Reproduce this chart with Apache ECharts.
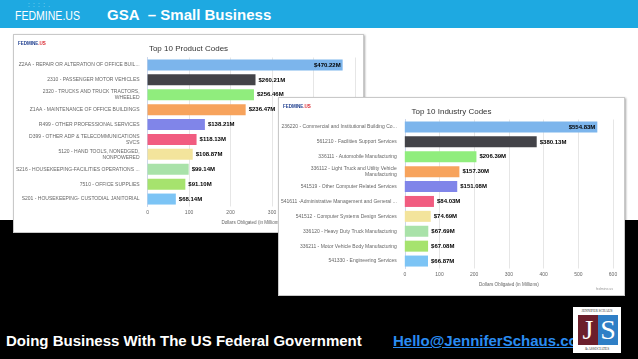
<!DOCTYPE html>
<html><head><meta charset="utf-8">
<script src="https://cdn.jsdelivr.net/npm/echarts@6/dist/echarts.min.js"></script>
<style>
html,body{margin:0;padding:0;width:638px;height:359px;overflow:hidden;background:#fff;font-family:"Liberation Sans",Arial,sans-serif;}
#slide{position:relative;width:638px;height:359px;background:#fff;overflow:hidden;}
#hdr{position:absolute;left:0;top:0;width:638px;height:28px;background:#1ea9e1;}
#hdrlogo{position:absolute;left:15px;top:9px;color:#fff;font-size:13px;line-height:14px;transform:scaleX(0.81);transform-origin:0 0;white-space:nowrap;}
#hdrdots{position:absolute;left:28px;top:2px;color:#dff3fb;font-size:5px;line-height:3px;letter-spacing:1px;white-space:nowrap;}
#hdrtitle{position:absolute;left:107px;top:6px;color:#fff;font-weight:bold;font-size:15px;line-height:17px;white-space:nowrap;}
#black{position:absolute;left:0;top:220px;width:638px;height:139px;background:#000;}
.card{position:absolute;background:#fff;box-sizing:border-box;border:1px solid #c9c9c9;box-shadow:1px 1px 2px rgba(0,0,0,0.35);overflow:hidden;}
#card1{left:13px;top:34px;width:351px;height:199px;}
#card2{left:278px;top:97px;width:347px;height:199px;}
.chart{position:absolute;left:-1px;top:-1px;}
#foot{position:absolute;left:6px;top:332px;color:#fff;font-weight:bold;font-size:15px;line-height:17px;white-space:nowrap;}
#mail{position:absolute;left:393px;top:332px;color:#2a8cf2;font-weight:bold;font-size:15px;line-height:17px;text-decoration:underline;white-space:nowrap;}
#jslogo{position:absolute;left:573px;top:307px;width:48px;height:46px;background:#fff;}
#jslogo .t{position:absolute;left:0;width:48px;text-align:center;font-family:"Liberation Serif",serif;font-size:3.5px;color:#333;white-space:nowrap;}
#jslogo .j{position:absolute;left:5px;top:8px;width:20px;height:30px;background:#6c1f2c;color:#fff;font-family:"Liberation Serif",serif;font-size:28px;line-height:30px;text-align:center;}
#jslogo .s{position:absolute;left:25px;top:8px;width:20px;height:30px;background:#2f7fc6;color:#fff;font-family:"Liberation Serif",serif;font-size:28px;line-height:30px;text-align:center;}
</style></head>
<body>
<div id="slide">
  <div id="hdr"></div>
  <div id="hdrdots">· · · ·<br>· · · · ·</div>
  <div id="hdrlogo">FEDMINE.US</div>
  <div id="hdrtitle">GSA&nbsp; – Small Business</div>
  <div id="black"></div>
  <div class="card" id="card1"><div class="chart" id="c1" style="width:351px;height:199px;"></div></div>
  <div class="card" id="card2"><div class="chart" id="c2" style="width:347px;height:199px;"></div></div>
  <div id="foot">Doing Business With The US Federal Government</div>
  <div id="mail">Hello@JenniferSchaus.com</div>
  <div id="jslogo">
    <div class="t" style="top:2px;">JENNIFER SCHAUS</div>
    <div class="j">J</div><div class="s">S</div>
    <div class="t" style="top:40px;">&amp; ASSOCIATES</div>
  </div>
</div>
<script>
const productCodes = [
  'Z2AA - REPAIR OR ALTERATION OF OFFICE BUIL...',
  '2310 - PASSENGER MOTOR VEHICLES',
  '2320 - TRUCKS AND TRUCK TRACTORS,\nWHEELED',
  'Z1AA - MAINTENANCE OF OFFICE BUILDINGS',
  'R499 - OTHER PROFESSIONAL SERVICES',
  'D399 - OTHER ADP & TELECOMMUNICATIONS\nSVCS',
  '5120 - HAND TOOLS, NONEDGED,\nNONPOWERED',
  'S216 - HOUSEKEEPING-FACILITIES OPERATIONS ...',
  '7510 - OFFICE SUPPLIES',
  'S201 - HOUSEKEEPING- CUSTODIAL JANITORIAL'
];
const productValues = [470.22, 260.21, 256.46, 236.47, 138.21, 118.13, 108.87, 99.14, 91.10, 68.14];
const productTicksMax = 500;

const industryCodes = [
  '236220 - Commercial and Institutional Building Co...',
  '561210 - Facilities Support Services',
  '336111 - Automobile Manufacturing',
  '336112 - Light Truck and Utility Vehicle\nManufacturing',
  '541519 - Other Computer Related Services',
  '541611 -Administrative Management and General ...',
  '541512 - Computer Systems Design Services',
  '336120 - Heavy Duty Truck Manufacturing',
  '336211 - Motor Vehicle Body Manufacturing',
  '541330 - Engineering Services'
];
const industryValues = [554.83, 380.13, 206.39, 157.30, 151.08, 84.03, 74.69, 67.69, 67.08, 66.87];
const industryTicksMax = 600;

const barColors = ['#7cb5ec','#434348','#90ed7d','#f7a35c','#8085e9','#f15c80','#f3e49c','#a9e2a9','#a6e36e','#7cc4f5'];
const FF = '"Liberation Sans", Arial, sans-serif';

function makeOption(title, cats, vals, max, grid, nameGap) {
  return {
    animation: false,
    textStyle: { fontFamily: FF },
    title: { text: title, left: 'center', top: 6, textStyle: { fontSize: 8, fontWeight: 'normal', color: '#333', fontFamily: FF } },
    graphic: [{
      type: 'text', left: 5, top: 7,
      style: { text: '{a|FEDMINE}{b|.US}', rich: {
        a: { fontSize: 4.5, fontWeight: 'bold', fill: '#1f3f8f', fontFamily: FF },
        b: { fontSize: 4.5, fontWeight: 'bold', fill: '#d9262e', fontFamily: FF } } }
    }, {
      type: 'text', right: 12, bottom: 5,
      style: { text: grid.credit ? 'fedmine.us' : '', fontSize: 3.5, fill: '#999', fontFamily: FF }
    }],
    grid: { left: grid.left, right: grid.right, top: grid.top, bottom: grid.bottom },
    xAxis: {
      type: 'value', min: 0, max: max, interval: 100,
      axisLabel: { fontSize: 5, color: '#666', margin: 4, fontFamily: FF },
      splitLine: { lineStyle: { color: '#e6e6e6', width: 1 } },
      axisLine: { show: false }, axisTick: { show: false },
      name: 'Dollars Obligated (in Millions)', nameLocation: 'middle', nameGap: nameGap,
      nameTextStyle: { fontSize: 4.6, color: '#666', fontFamily: FF }
    },
    yAxis: {
      type: 'category', inverse: true, data: cats,
      axisLine: { lineStyle: { color: '#ccd6eb' } },
      axisTick: { length: 3, lineStyle: { color: '#ccd6eb' } },
      axisLabel: { fontSize: 5, color: '#666', margin: 8, lineHeight: 6, interval: 0, fontFamily: FF }
    },
    series: [{
      type: 'bar', barWidth: 11,
      data: vals.map((v, i) => {
        const d = { value: v, itemStyle: { color: barColors[i] } };
        if (i === 0) d.label = { position: 'insideRight', distance: 2 };
        return d;
      }),
      label: { show: true, position: 'right', distance: 3, fontSize: 6, fontWeight: 'bold', color: '#000', fontFamily: FF,
        formatter: p => '$' + p.value.toFixed(2) + 'M' }
    }]
  };
}

const c1 = echarts.init(document.getElementById('c1'));
c1.setOption(makeOption('Top 10 Product Codes', productCodes, productValues, productTicksMax,
  { left: 123, right: 9, top: 23.5, bottom: 26.5 }, 12));
const c2 = echarts.init(document.getElementById('c2'));
c2.setOption(makeOption('Top 10 Industry Codes', industryCodes, industryValues, industryTicksMax,
  { left: 123, right: 12, top: 22.5, bottom: 27.5, credit: true }, 13));
</script>
</body></html>
